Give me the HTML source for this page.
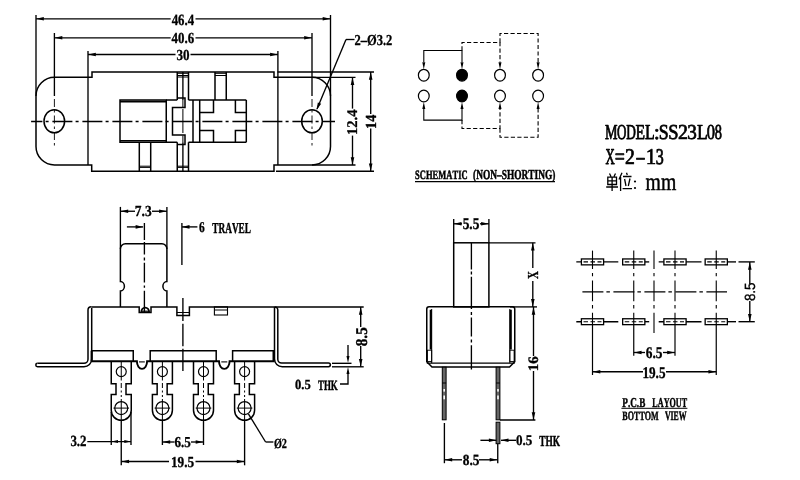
<!DOCTYPE html>
<html><head><meta charset="utf-8"><style>
html,body{margin:0;padding:0;background:#fff;}
svg{display:block;will-change:transform;} text{text-rendering:geometricPrecision;}
</style></head><body>
<svg width="800" height="480" viewBox="0 0 800 480" stroke="#000" fill="none" stroke-linecap="butt">
<rect x="0" y="0" width="800" height="480" fill="#fff" stroke="none"/>
<path d="M92,72 H274 V77.3 H312 A18.5 18.5 0 0 1 330.5 95.8 V146.5 A18.5 18.5 0 0 1 312 165 H274 V171.25 H91.7 V165 H54.5 A18.5 18.5 0 0 1 36 146.5 V95.8 A18.5 18.5 0 0 1 54.5 77.3 H92 Z" stroke-width="1.5" fill="none"/>
<line x1="88" y1="51" x2="88" y2="165" stroke-width="1.35"/>
<line x1="277.9" y1="51" x2="277.9" y2="165" stroke-width="1.35"/>
<line x1="36" y1="15" x2="36" y2="96" stroke-width="1.35"/>
<line x1="330.5" y1="15" x2="330.5" y2="96" stroke-width="1.35"/>
<line x1="54.4" y1="33" x2="54.4" y2="96" stroke-width="1.35"/>
<line x1="312" y1="33" x2="312" y2="96" stroke-width="1.35"/>
<line x1="54.4" y1="99" x2="54.4" y2="146" stroke-width="0.9" stroke-dasharray="8 3 2.5 3"/>
<line x1="312" y1="99" x2="312" y2="146" stroke-width="0.9" stroke-dasharray="8 3 2.5 3"/>
<line x1="31.1" y1="121.5" x2="335" y2="121.5" stroke-width="1.35" stroke-dasharray="20 3.2 3 3.8" stroke-dashoffset="8.7"/>
<ellipse cx="54.3" cy="121.25" rx="10.3" ry="11.5" stroke-width="1.5" fill="none"/>
<ellipse cx="312" cy="121.25" rx="10.3" ry="11.5" stroke-width="1.5" fill="none"/>
<line x1="36" y1="18.8" x2="170.7" y2="18.8" stroke-width="1.35"/>
<line x1="195.5" y1="18.8" x2="330.5" y2="18.8" stroke-width="1.35"/>
<path d="M36.30,18.80 L43.80,17.00 L43.80,20.60 Z" fill="#000" stroke="none"/>
<path d="M330.20,18.80 L322.70,20.60 L322.70,17.00 Z" fill="#000" stroke="none"/>
<line x1="54.5" y1="37.8" x2="170.7" y2="37.8" stroke-width="1.35"/>
<line x1="195.5" y1="37.8" x2="312" y2="37.8" stroke-width="1.35"/>
<path d="M54.80,37.80 L62.30,36.00 L62.30,39.60 Z" fill="#000" stroke="none"/>
<path d="M311.70,37.80 L304.20,39.60 L304.20,36.00 Z" fill="#000" stroke="none"/>
<line x1="88" y1="54.5" x2="175.5" y2="54.5" stroke-width="1.35"/>
<line x1="190.5" y1="54.5" x2="277.9" y2="54.5" stroke-width="1.35"/>
<path d="M88.30,54.50 L95.80,52.70 L95.80,56.30 Z" fill="#000" stroke="none"/>
<path d="M277.60,54.50 L270.10,56.30 L270.10,52.70 Z" fill="#000" stroke="none"/>
<text x="0" y="0" font-family='"Liberation Serif", serif' font-weight="bold" font-size="100.0" transform="matrix(0.12807,0,0,0.15707,171.625,24.600)" stroke="#000" stroke-width="2.10" stroke-linejoin="round" fill="#000" style="font-kerning:none">46.4</text>
<text x="0" y="0" font-family='"Liberation Serif", serif' font-weight="bold" font-size="100.0" transform="matrix(0.12888,0,0,0.15337,171.624,43.000)" stroke="#000" stroke-width="2.13" stroke-linejoin="round" fill="#000" style="font-kerning:none">40.6</text>
<text x="0" y="0" font-family='"Liberation Serif", serif' font-weight="bold" font-size="100.0" transform="matrix(0.13091,0,0,0.15337,176.408,59.900)" stroke="#000" stroke-width="2.11" stroke-linejoin="round" fill="#000" style="font-kerning:none">30</text>
<line x1="277.5" y1="72" x2="374" y2="72" stroke-width="1.35"/>
<line x1="276" y1="171.25" x2="374" y2="171.25" stroke-width="1.35"/>
<line x1="312" y1="77.3" x2="355.5" y2="77.3" stroke-width="1.35"/>
<line x1="312" y1="165" x2="355.5" y2="165" stroke-width="1.35"/>
<line x1="352.5" y1="77.3" x2="352.5" y2="108.6" stroke-width="1.35"/>
<line x1="352.5" y1="135.6" x2="352.5" y2="165" stroke-width="1.35"/>
<path d="M352.50,77.60 L354.30,85.10 L350.70,85.10 Z" fill="#000" stroke="none"/>
<path d="M352.50,164.70 L350.70,157.20 L354.30,157.20 Z" fill="#000" stroke="none"/>
<text x="0" y="0" font-family='"Liberation Serif", serif' font-weight="bold" font-size="100.0" transform="rotate(-90 357.25 133.75) matrix(0.14533,0,0,0.14726,356.086,133.750)" stroke="#000" stroke-width="2.05" stroke-linejoin="round" fill="#000" style="font-kerning:none">12.4</text>
<line x1="370.7" y1="72" x2="370.7" y2="114" stroke-width="1.35"/>
<line x1="370.7" y1="128.5" x2="370.7" y2="171.25" stroke-width="1.35"/>
<path d="M370.70,72.30 L372.50,79.80 L368.90,79.80 Z" fill="#000" stroke="none"/>
<path d="M370.70,170.90 L368.90,163.40 L372.50,163.40 Z" fill="#000" stroke="none"/>
<text x="0" y="0" font-family='"Liberation Serif", serif' font-weight="bold" font-size="100.0" transform="rotate(-90 376 127.75) matrix(0.14145,0,0,0.15299,374.867,127.750)" stroke="#000" stroke-width="2.04" stroke-linejoin="round" fill="#000" style="font-kerning:none">14</text>
<line x1="354.5" y1="39.5" x2="346" y2="39.5" stroke-width="1.35"/>
<line x1="346" y1="39.5" x2="317" y2="109" stroke-width="1.35"/>
<path d="M316.60,110.00 L317.83,102.39 L321.16,103.78 Z" fill="#000" stroke="none"/>
<text x="0" y="0" font-family='"Liberation Serif", serif' font-weight="bold" font-size="100.0" transform="matrix(0.12505,0,0,0.15165,354.475,44.600)" stroke="#000" stroke-width="2.17" stroke-linejoin="round" fill="#000" style="font-kerning:none">2–Ø3.2</text>
<rect x="120" y="100" width="46.25" height="42.25" stroke-width="1.5" fill="none"/>
<line x1="120" y1="101.6" x2="166.25" y2="101.6" stroke-width="1.6"/>
<line x1="120" y1="140.8" x2="166.25" y2="140.8" stroke-width="1.6"/>
<line x1="166.25" y1="100" x2="177.25" y2="100" stroke-width="1.5"/>
<line x1="166.25" y1="142.25" x2="177.25" y2="142.25" stroke-width="1.5"/>
<line x1="177.25" y1="72" x2="177.25" y2="100" stroke-width="1.5"/>
<line x1="177.25" y1="142.25" x2="177.25" y2="171" stroke-width="1.5"/>
<line x1="139.3" y1="142.25" x2="139.3" y2="171" stroke-width="1.5"/>
<line x1="150.7" y1="142.25" x2="150.7" y2="171" stroke-width="1.5"/>
<line x1="139.3" y1="166.2" x2="150.7" y2="166.2" stroke-width="1.0"/>
<line x1="139.3" y1="167.4" x2="150.7" y2="167.4" stroke-width="1.0"/>
<path d="M177.25,98 H185 V107.5 H172.5 V135 H185 V144.4 H177.25" stroke-width="1.5" fill="none"/>
<line x1="182.9" y1="72" x2="182.9" y2="100" stroke-width="1.35"/>
<line x1="182.9" y1="100" x2="182.9" y2="107" stroke-width="1.0"/>
<line x1="182.9" y1="109" x2="182.9" y2="133" stroke-width="1.0"/>
<line x1="182.9" y1="135.5" x2="182.9" y2="142.25" stroke-width="1.0"/>
<line x1="182.9" y1="142.25" x2="182.9" y2="171" stroke-width="1.35"/>
<line x1="188.5" y1="72" x2="188.5" y2="100" stroke-width="1.5"/>
<line x1="188.5" y1="142.25" x2="188.5" y2="171" stroke-width="1.5"/>
<line x1="215" y1="72" x2="215" y2="100" stroke-width="1.5"/>
<line x1="226.25" y1="72" x2="226.25" y2="100" stroke-width="1.5"/>
<line x1="188.5" y1="100" x2="246.3" y2="100" stroke-width="1.5"/>
<line x1="188.5" y1="142.25" x2="246.3" y2="142.25" stroke-width="1.5"/>
<line x1="193" y1="100" x2="193" y2="142.25" stroke-width="1.5"/>
<line x1="199.7" y1="100" x2="199.7" y2="142.25" stroke-width="1.5"/>
<line x1="246.3" y1="100" x2="246.3" y2="142.25" stroke-width="1.5"/>
<path d="M199.7,112.4 H213.5 V100" stroke-width="1.5" fill="none"/>
<path d="M235.4,100 V112.4 H246.3" stroke-width="1.5" fill="none"/>
<path d="M199.7,130.5 H213.5 V142.25" stroke-width="1.5" fill="none"/>
<path d="M235.4,142.25 V130.5 H246.3" stroke-width="1.5" fill="none"/>
<line x1="177.25" y1="73.3" x2="188.5" y2="73.3" stroke-width="1.0"/>
<line x1="177.25" y1="75.5" x2="188.5" y2="75.5" stroke-width="1.0"/>
<line x1="177.25" y1="77.0" x2="188.5" y2="77.0" stroke-width="1.0"/>
<line x1="215" y1="73.3" x2="226.25" y2="73.3" stroke-width="1.0"/>
<line x1="215" y1="75.5" x2="226.25" y2="75.5" stroke-width="1.0"/>
<line x1="177.25" y1="166.2" x2="188.5" y2="166.2" stroke-width="1.0"/>
<line x1="177.25" y1="167.4" x2="188.5" y2="167.4" stroke-width="1.0"/>
<ellipse cx="423.8" cy="75.2" rx="5.4" ry="5.9" stroke-width="1.2" fill="none"/>
<ellipse cx="423.8" cy="96.0" rx="5.4" ry="5.9" stroke-width="1.2" fill="none"/>
<ellipse cx="462" cy="75.2" rx="5.4" ry="5.9" stroke-width="1.2" fill="#000"/>
<ellipse cx="462" cy="96.0" rx="5.4" ry="5.9" stroke-width="1.2" fill="#000"/>
<ellipse cx="500" cy="75.2" rx="5.4" ry="5.9" stroke-width="1.2" fill="none"/>
<ellipse cx="500" cy="96.0" rx="5.4" ry="5.9" stroke-width="1.2" fill="none"/>
<ellipse cx="538.1" cy="75.2" rx="5.4" ry="5.9" stroke-width="1.2" fill="none"/>
<ellipse cx="538.1" cy="96.0" rx="5.4" ry="5.9" stroke-width="1.2" fill="none"/>
<path d="M423.8,62 V50.5 H462 V62" stroke-width="1.1" fill="none"/>
<path d="M423.80,69.20 L422.30,62.20 L425.30,62.20 Z" fill="#000" stroke="none"/>
<path d="M462.00,69.20 L460.50,62.20 L463.50,62.20 Z" fill="#000" stroke="none"/>
<path d="M423.8,109 V120.1 H462 V109" stroke-width="1.1" fill="none"/>
<path d="M423.80,102.00 L425.30,109.00 L422.30,109.00 Z" fill="#000" stroke="none"/>
<path d="M462.00,102.00 L463.50,109.00 L460.50,109.00 Z" fill="#000" stroke="none"/>
<path d="M462,50.5 V42.5 H500 V62" stroke-width="1.1" fill="none" stroke-dasharray="4.2 2.3"/>
<path d="M500.00,69.20 L498.50,62.20 L501.50,62.20 Z" fill="#000" stroke="none"/>
<path d="M500,42.5 V33.5 H538.1 V62" stroke-width="1.1" fill="none" stroke-dasharray="4.2 2.3"/>
<path d="M538.10,69.20 L536.60,62.20 L539.60,62.20 Z" fill="#000" stroke="none"/>
<path d="M462,120.1 V128.5 H500 V109" stroke-width="1.1" fill="none" stroke-dasharray="4.2 2.3"/>
<path d="M500.00,102.00 L501.50,109.00 L498.50,109.00 Z" fill="#000" stroke="none"/>
<path d="M500,128.5 V137.2 H538.1 V109" stroke-width="1.1" fill="none" stroke-dasharray="4.2 2.3"/>
<path d="M538.10,102.00 L539.60,109.00 L536.60,109.00 Z" fill="#000" stroke="none"/>
<text x="0" y="0" font-family='"Liberation Serif", serif' font-weight="bold" font-size="100.0" transform="matrix(0.08529,0,0,0.12838,415.046,179.000)" stroke="#000" stroke-width="3.74" stroke-linejoin="round" fill="#000" style="font-kerning:none">SCHEMATIC</text>
<text x="0" y="0" font-family='"Liberation Serif", serif' font-weight="bold" font-size="100.0" transform="matrix(0.09378,0,0,0.13692,473.088,179.000)" stroke="#000" stroke-width="3.47" stroke-linejoin="round" fill="#000" style="font-kerning:none">(NON–SHORTING)</text>
<line x1="415" y1="181.6" x2="555" y2="181.6" stroke-width="1.1"/>
<text x="0" y="0" font-family='"Liberation Serif", serif' font-weight="normal" font-size="100.0" transform="matrix(0.14078,0,0,0.21277,604.994,139.400)" stroke="#000" stroke-width="3.96" stroke-linejoin="round" fill="#000">M</text>
<text x="0" y="0" font-family='"Liberation Serif", serif' font-weight="normal" font-size="100.0" transform="matrix(0.12966,0,0,0.21277,616.968,139.400)" stroke="#000" stroke-width="4.09" stroke-linejoin="round" fill="#000">O</text>
<text x="0" y="0" font-family='"Liberation Serif", serif' font-weight="normal" font-size="100.0" transform="matrix(0.13317,0,0,0.21277,626.316,139.400)" stroke="#000" stroke-width="4.05" stroke-linejoin="round" fill="#000">D</text>
<text x="0" y="0" font-family='"Liberation Serif", serif' font-weight="normal" font-size="100.0" transform="matrix(0.15595,0,0,0.21277,635.451,139.400)" stroke="#000" stroke-width="3.80" stroke-linejoin="round" fill="#000">E</text>
<text x="0" y="0" font-family='"Liberation Serif", serif' font-weight="normal" font-size="100.0" transform="matrix(0.15901,0,0,0.21277,645.042,139.400)" stroke="#000" stroke-width="3.77" stroke-linejoin="round" fill="#000">L</text>
<text x="0" y="0" font-family='"Liberation Serif", serif' font-weight="normal" font-size="100.0" transform="matrix(0.22095,0,0,0.21277,653.852,139.400)" stroke="#000" stroke-width="3.23" stroke-linejoin="round" fill="#000">:</text>
<text x="0" y="0" font-family='"Liberation Serif", serif' font-weight="normal" font-size="100.0" transform="matrix(0.17788,0,0,0.21277,658.810,139.400)" stroke="#000" stroke-width="3.58" stroke-linejoin="round" fill="#000">S</text>
<text x="0" y="0" font-family='"Liberation Serif", serif' font-weight="normal" font-size="100.0" transform="matrix(0.18491,0,0,0.21277,668.163,139.400)" stroke="#000" stroke-width="3.52" stroke-linejoin="round" fill="#000">S</text>
<text x="0" y="0" font-family='"Liberation Serif", serif' font-weight="normal" font-size="100.0" transform="matrix(0.19956,0,0,0.21277,678.123,139.400)" stroke="#000" stroke-width="3.40" stroke-linejoin="round" fill="#000">2</text>
<text x="0" y="0" font-family='"Liberation Serif", serif' font-weight="normal" font-size="100.0" transform="matrix(0.19124,0,0,0.21277,687.285,139.400)" stroke="#000" stroke-width="3.47" stroke-linejoin="round" fill="#000">3</text>
<text x="0" y="0" font-family='"Liberation Serif", serif' font-weight="normal" font-size="100.0" transform="matrix(0.17625,0,0,0.21277,696.892,139.400)" stroke="#000" stroke-width="3.60" stroke-linejoin="round" fill="#000">L</text>
<text x="0" y="0" font-family='"Liberation Serif", serif' font-weight="normal" font-size="100.0" transform="matrix(0.16516,0,0,0.21277,706.871,139.400)" stroke="#000" stroke-width="3.70" stroke-linejoin="round" fill="#000">0</text>
<text x="0" y="0" font-family='"Liberation Serif", serif' font-weight="normal" font-size="100.0" transform="matrix(0.14393,0,0,0.21277,714.852,139.400)" stroke="#000" stroke-width="3.92" stroke-linejoin="round" fill="#000">8</text>
<text x="0" y="0" font-family='"Liberation Serif", serif' font-weight="normal" font-size="100.0" transform="matrix(0.12754,0,0,0.22504,605.420,163.800)" stroke="#000" stroke-width="3.97" stroke-linejoin="round" fill="#000">X</text>
<text x="0" y="0" font-family='"Liberation Serif", serif' font-weight="normal" font-size="100.0" transform="matrix(0.17837,0,0,0.22504,614.812,163.800)" stroke="#000" stroke-width="3.47" stroke-linejoin="round" fill="#000">=</text>
<text x="0" y="0" font-family='"Liberation Serif", serif' font-weight="normal" font-size="100.0" transform="matrix(0.19707,0,0,0.22504,624.934,163.800)" stroke="#000" stroke-width="3.32" stroke-linejoin="round" fill="#000">2</text>
<text x="0" y="0" font-family='"Liberation Serif", serif' font-weight="normal" font-size="100.0" transform="matrix(0.16158,0,0,0.22504,636.410,163.800)" stroke="#000" stroke-width="3.62" stroke-linejoin="round" fill="#000">–</text>
<text x="0" y="0" font-family='"Liberation Serif", serif' font-weight="normal" font-size="100.0" transform="matrix(0.21020,0,0,0.22504,645.853,163.800)" stroke="#000" stroke-width="3.22" stroke-linejoin="round" fill="#000">1</text>
<text x="0" y="0" font-family='"Liberation Serif", serif' font-weight="normal" font-size="100.0" transform="matrix(0.15977,0,0,0.22504,655.635,163.800)" stroke="#000" stroke-width="3.64" stroke-linejoin="round" fill="#000">3</text>
<path d="M609.5,173.5 L611,176.5 M615.5,173.5 L614,176.5 M607.8,177.2 H616.5 V184.5 H607.8 Z M607.8,180.8 H616.5 M612.1,177.2 V191 M606.2,187 H618" stroke-width="1.3" fill="none"/>
<path d="M622,172.8 L619,179.5 M620.6,177 V191 M626.5,172.8 L627.3,175 M623,176.5 H631.5 M624.6,179 L626,186 M630,178.5 L628.3,186 M622.6,188.6 H632" stroke-width="1.3" fill="none"/>
<circle cx="635" cy="181.5" r="1.1" stroke-width="0" fill="#000"/>
<circle cx="635" cy="188" r="1.1" stroke-width="0" fill="#000"/>
<text x="0" y="0" font-family='"Liberation Serif", serif' font-weight="normal" font-size="100.0" transform="matrix(0.19749,0,0,0.24831,645.585,189.700)" stroke="#000" stroke-width="2.02" stroke-linejoin="round" fill="#000" style="font-kerning:none">mm</text>
<path d="M120.4,306.9 V291 A4 4.75 0 0 0 120.4 281.5 V248.75 A5 5 0 0 1 125.4 243.75 H161.9 A5 5 0 0 1 166.9 248.75 V281.5 A4 4.75 0 0 0 166.9 291 V306.9" stroke-width="1.5" fill="none"/>
<path d="M91.3,306.9 H139.2 V312.5 H151 V306.9 H176.9 V315.5 H189.4 V306.9 H363.7" stroke-width="1.5" fill="none"/>
<line x1="176.9" y1="312.5" x2="189.4" y2="312.5" stroke-width="1.0"/>
<rect x="214.4" y="306.9" width="13.1" height="8.1" stroke-width="1.1" fill="none"/>
<line x1="214.4" y1="310" x2="227.5" y2="310" stroke-width="1.0"/>
<line x1="141" y1="311.2" x2="149.5" y2="311.2" stroke-width="1.2"/>
<path d="M141.3,312.2 A3.9 4.6 0 0 1 149.1 312.2" stroke-width="1.8" fill="none"/>
<path d="M144.4,223 V240 M144.4,242 V254.5 M144.4,257.5 V260.5 M144.4,262.7 V282.5 M144.4,285.6 V287.7 M144.4,290.8 V312" stroke-width="1.35" fill="none"/>
<path d="M182.9,298 V321 M182.9,323.7 V346.2 M182.9,348.7 V371" stroke-width="1.35" fill="none"/>
<path d="M37.5,363.3 H84 A4 4 0 0 0 88 359.3 V310 A3.3 3.3 0 0 1 91.3 306.7" stroke-width="1.5" fill="none"/>
<path d="M37.5,363.3 A1.7 1.7 0 0 0 37.5 366.7 H84 A7.7 7.7 0 0 0 91.7 359 V308" stroke-width="1.5" fill="none"/>
<path d="M274.5,307 V359 A7.7 7.7 0 0 0 282.2 366.7 H328.5 A1.85 1.85 0 0 0 328.5 363 H281.5 A3.7 3.7 0 0 1 277.8 359.3 V310 A3.1 3.1 0 0 0 274.7 306.9" stroke-width="1.5" fill="none"/>
<path d="M91.7,350.7 H133.25 V361.5" stroke-width="1.5" fill="none"/>
<path d="M150.2,361.5 V350.7 H216.2 V361.5" stroke-width="1.5" fill="none"/>
<path d="M232.6,361.5 V350.7 H274.5" stroke-width="1.5" fill="none"/>
<path d="M91.7,361.3 H136.9 A5.1 7.6 0 0 0 147.1 361.3 H219 A5.3 7.6 0 0 0 229.6 361.3 H274.5" stroke-width="1.9" fill="none"/>
<line x1="139" y1="361.9" x2="144.8" y2="361.9" stroke-width="1.1"/>
<line x1="221.3" y1="361.9" x2="227.3" y2="361.9" stroke-width="1.1"/>
<line x1="91.7" y1="350.7" x2="91.7" y2="361.5" stroke-width="2.2"/>
<line x1="273.5" y1="350.7" x2="273.5" y2="361.5" stroke-width="2.0"/>
<path d="M111.25,361.5 V383.7 H116.0 V394.6 H111.25 V410.3 A10 10 0 0 0 131.25 410.3 V394.6 H126.0 V383.7 H131.25 V361.5" stroke-width="1.5" fill="none"/>
<circle cx="121.25" cy="371.6" r="5.0" stroke-width="1.2" fill="none"/>
<circle cx="121.25" cy="408.1" r="6.5" stroke-width="1.2" fill="none"/>
<line x1="113.45" y1="408.1" x2="129.05" y2="408.1" stroke-width="1.0"/>
<line x1="121.25" y1="362" x2="121.25" y2="380.5" stroke-width="1.0"/>
<line x1="121.25" y1="383" x2="121.25" y2="397" stroke-width="1.0" stroke-dasharray="5 2.5 2 2.5"/>
<line x1="121.25" y1="399" x2="121.25" y2="421" stroke-width="1.0"/>
<path d="M152.4,361.5 V383.7 H157.15 V394.6 H152.4 V410.3 A10 10 0 0 0 172.4 410.3 V394.6 H167.15 V383.7 H172.4 V361.5" stroke-width="1.5" fill="none"/>
<circle cx="162.4" cy="371.6" r="5.0" stroke-width="1.2" fill="none"/>
<circle cx="162.4" cy="408.1" r="6.5" stroke-width="1.2" fill="none"/>
<line x1="154.6" y1="408.1" x2="170.20000000000002" y2="408.1" stroke-width="1.0"/>
<line x1="162.4" y1="362" x2="162.4" y2="380.5" stroke-width="1.0"/>
<line x1="162.4" y1="383" x2="162.4" y2="397" stroke-width="1.0" stroke-dasharray="5 2.5 2 2.5"/>
<line x1="162.4" y1="399" x2="162.4" y2="421" stroke-width="1.0"/>
<path d="M193.5,361.5 V383.7 H198.25 V394.6 H193.5 V410.3 A10 10 0 0 0 213.5 410.3 V394.6 H208.25 V383.7 H213.5 V361.5" stroke-width="1.5" fill="none"/>
<circle cx="203.5" cy="371.6" r="5.0" stroke-width="1.2" fill="none"/>
<circle cx="203.5" cy="408.1" r="6.5" stroke-width="1.2" fill="none"/>
<line x1="195.7" y1="408.1" x2="211.3" y2="408.1" stroke-width="1.0"/>
<line x1="203.5" y1="362" x2="203.5" y2="380.5" stroke-width="1.0"/>
<line x1="203.5" y1="383" x2="203.5" y2="397" stroke-width="1.0" stroke-dasharray="5 2.5 2 2.5"/>
<line x1="203.5" y1="399" x2="203.5" y2="421" stroke-width="1.0"/>
<path d="M234.6,361.5 V383.7 H239.35 V394.6 H234.6 V410.3 A10 10 0 0 0 254.6 410.3 V394.6 H249.35 V383.7 H254.6 V361.5" stroke-width="1.5" fill="none"/>
<circle cx="244.6" cy="371.6" r="5.0" stroke-width="1.2" fill="none"/>
<circle cx="244.6" cy="408.1" r="6.5" stroke-width="1.2" fill="none"/>
<line x1="236.79999999999998" y1="408.1" x2="252.4" y2="408.1" stroke-width="1.0"/>
<line x1="244.6" y1="362" x2="244.6" y2="380.5" stroke-width="1.0"/>
<line x1="244.6" y1="383" x2="244.6" y2="397" stroke-width="1.0" stroke-dasharray="5 2.5 2 2.5"/>
<line x1="244.6" y1="399" x2="244.6" y2="421" stroke-width="1.0"/>
<line x1="111.25" y1="412" x2="111.25" y2="445" stroke-width="1.35"/>
<line x1="131" y1="412" x2="131" y2="445" stroke-width="1.35"/>
<line x1="121.25" y1="421" x2="121.25" y2="465.3" stroke-width="1.35"/>
<line x1="162.4" y1="421" x2="162.4" y2="445" stroke-width="1.35"/>
<line x1="203.5" y1="421" x2="203.5" y2="445" stroke-width="1.35"/>
<line x1="244.6" y1="421" x2="244.6" y2="465.3" stroke-width="1.35"/>
<text x="0" y="0" font-family='"Liberation Serif", serif' font-weight="bold" font-size="100.0" transform="matrix(0.12912,0,0,0.15556,70.415,446.400)" stroke="#000" stroke-width="2.11" stroke-linejoin="round" fill="#000" style="font-kerning:none">3.2</text>
<line x1="87.3" y1="441.6" x2="131" y2="441.6" stroke-width="1.35"/>
<path d="M111.50,441.60 L118.00,440.10 L118.00,443.10 Z" fill="#000" stroke="none"/>
<path d="M130.80,441.60 L124.30,443.10 L124.30,440.10 Z" fill="#000" stroke="none"/>
<line x1="162.4" y1="442" x2="174.5" y2="442" stroke-width="1.35"/>
<line x1="191" y1="442" x2="203.5" y2="442" stroke-width="1.35"/>
<path d="M162.70,442.00 L170.20,440.20 L170.20,443.80 Z" fill="#000" stroke="none"/>
<path d="M203.20,442.00 L195.70,443.80 L195.70,440.20 Z" fill="#000" stroke="none"/>
<text x="0" y="0" font-family='"Liberation Serif", serif' font-weight="bold" font-size="100.0" transform="matrix(0.13060,0,0,0.15103,174.554,446.500)" stroke="#000" stroke-width="2.13" stroke-linejoin="round" fill="#000" style="font-kerning:none">6.5</text>
<line x1="121.25" y1="461.5" x2="169" y2="461.5" stroke-width="1.35"/>
<line x1="195.5" y1="461.5" x2="244.6" y2="461.5" stroke-width="1.35"/>
<path d="M121.55,461.50 L129.05,459.70 L129.05,463.30 Z" fill="#000" stroke="none"/>
<path d="M244.30,461.50 L236.80,463.30 L236.80,459.70 Z" fill="#000" stroke="none"/>
<text x="0" y="0" font-family='"Liberation Serif", serif' font-weight="bold" font-size="100.0" transform="matrix(0.13317,0,0,0.15254,170.934,466.600)" stroke="#000" stroke-width="2.10" stroke-linejoin="round" fill="#000" style="font-kerning:none">19.5</text>
<line x1="248.4" y1="413.8" x2="265.6" y2="442" stroke-width="1.35"/>
<line x1="265.6" y1="442" x2="273.4" y2="442" stroke-width="1.35"/>
<text x="0" y="0" font-family='"Liberation Serif", serif' font-weight="bold" font-size="100.0" transform="matrix(0.10118,0,0,0.13840,273.906,447.500)" stroke="#000" stroke-width="2.50" stroke-linejoin="round" fill="#000" style="font-kerning:none">Ø2</text>
<line x1="120.4" y1="206.9" x2="120.4" y2="249" stroke-width="1.35"/>
<line x1="166.9" y1="206.9" x2="166.9" y2="249" stroke-width="1.35"/>
<line x1="120.4" y1="211.25" x2="135" y2="211.25" stroke-width="1.35"/>
<line x1="152" y1="211.25" x2="166.9" y2="211.25" stroke-width="1.35"/>
<path d="M120.70,211.25 L128.20,209.45 L128.20,213.05 Z" fill="#000" stroke="none"/>
<path d="M166.60,211.25 L159.10,213.05 L159.10,209.45 Z" fill="#000" stroke="none"/>
<text x="0" y="0" font-family='"Liberation Serif", serif' font-weight="bold" font-size="100.0" transform="matrix(0.13507,0,0,0.15330,134.828,216.400)" stroke="#000" stroke-width="2.08" stroke-linejoin="round" fill="#000" style="font-kerning:none">7.3</text>
<line x1="126.9" y1="226.9" x2="143.1" y2="226.9" stroke-width="1.35"/>
<path d="M143.10,226.90 L135.60,228.70 L135.60,225.10 Z" fill="#000" stroke="none"/>
<line x1="181.9" y1="223" x2="181.9" y2="265" stroke-width="1.35"/>
<line x1="182" y1="226.9" x2="197.4" y2="226.9" stroke-width="1.35"/>
<path d="M182.00,226.90 L189.50,225.10 L189.50,228.70 Z" fill="#000" stroke="none"/>
<text x="0" y="0" font-family='"Liberation Serif", serif' font-weight="bold" font-size="100.0" transform="matrix(0.11454,0,0,0.14952,199.109,232.400)" stroke="#000" stroke-width="2.27" stroke-linejoin="round" fill="#000" style="font-kerning:none">6</text>
<text x="0" y="0" font-family='"Liberation Serif", serif' font-weight="bold" font-size="100.0" transform="matrix(0.09246,0,0,0.15148,212.356,232.500)" stroke="#000" stroke-width="2.87" stroke-linejoin="round" fill="#000" style="font-kerning:none">TRAVEL</text>
<line x1="332" y1="363.3" x2="351.5" y2="363.3" stroke-width="1.35"/>
<line x1="332" y1="366.8" x2="363.7" y2="366.8" stroke-width="1.35"/>
<line x1="360.7" y1="306.9" x2="360.7" y2="327" stroke-width="1.35"/>
<line x1="360.7" y1="346" x2="360.7" y2="366.8" stroke-width="1.35"/>
<path d="M360.70,307.20 L362.50,314.70 L358.90,314.70 Z" fill="#000" stroke="none"/>
<path d="M360.70,366.50 L358.90,359.00 L362.50,359.00 Z" fill="#000" stroke="none"/>
<text x="0" y="0" font-family='"Liberation Serif", serif' font-weight="bold" font-size="100.0" transform="rotate(-90 366.6 345.8) matrix(0.15252,0,0,0.16540,366.094,345.800)" stroke="#000" stroke-width="1.89" stroke-linejoin="round" fill="#000" style="font-kerning:none">8.5</text>
<line x1="348" y1="345" x2="348" y2="356" stroke-width="1.35"/>
<path d="M348.00,363.10 L346.50,356.10 L349.50,356.10 Z" fill="#000" stroke="none"/>
<path d="M348.00,367.00 L349.50,374.00 L346.50,374.00 Z" fill="#000" stroke="none"/>
<path d="M348,374 V384 H340" stroke-width="1.35" fill="none"/>
<text x="0" y="0" font-family='"Liberation Serif", serif' font-weight="bold" font-size="100.0" transform="matrix(0.12593,0,0,0.13834,295.020,389.400)" stroke="#000" stroke-width="2.27" stroke-linejoin="round" fill="#000" style="font-kerning:none">0.5</text>
<text x="0" y="0" font-family='"Liberation Serif", serif' font-weight="bold" font-size="100.0" transform="matrix(0.08912,0,0,0.14203,317.961,389.500)" stroke="#000" stroke-width="3.03" stroke-linejoin="round" fill="#000" style="font-kerning:none">THK</text>
<rect x="453.7" y="242.8" width="35.2" height="64.1" stroke-width="1.5" fill="none"/>
<path d="M471.4,242.8 V269.5 M471.4,271.6 V274.5 M471.4,276.8 V309 M471.4,312 V315 M471.4,317.6 V336.6 M471.4,339.5 V342.4 M471.4,345.3 V369.5" stroke-width="1.35" fill="none"/>
<line x1="453.7" y1="219" x2="453.7" y2="242.8" stroke-width="1.35"/>
<line x1="488.9" y1="219" x2="488.9" y2="242.8" stroke-width="1.35"/>
<line x1="453.7" y1="223.8" x2="462" y2="223.8" stroke-width="1.35"/>
<line x1="480" y1="223.8" x2="488.9" y2="223.8" stroke-width="1.35"/>
<path d="M454.00,223.80 L461.50,222.00 L461.50,225.60 Z" fill="#000" stroke="none"/>
<path d="M488.60,223.80 L481.10,225.60 L481.10,222.00 Z" fill="#000" stroke="none"/>
<text x="0" y="0" font-family='"Liberation Serif", serif' font-weight="bold" font-size="100.0" transform="matrix(0.13381,0,0,0.16494,462.664,228.600)" stroke="#000" stroke-width="2.01" stroke-linejoin="round" fill="#000" style="font-kerning:none">5.5</text>
<line x1="488.9" y1="242.8" x2="535.5" y2="242.8" stroke-width="1.35"/>
<line x1="532.8" y1="242.8" x2="532.8" y2="268" stroke-width="1.35"/>
<line x1="532.8" y1="281" x2="532.8" y2="306.9" stroke-width="1.35"/>
<path d="M532.80,243.10 L534.60,250.60 L531.00,250.60 Z" fill="#000" stroke="none"/>
<path d="M532.80,306.60 L531.00,299.10 L534.60,299.10 Z" fill="#000" stroke="none"/>
<text x="0" y="0" font-family='"Liberation Serif", serif' font-weight="bold" font-size="100.0" transform="rotate(-90 537.9 278.75) matrix(0.10840,0,0,0.15272,537.699,278.750)" stroke="#000" stroke-width="2.30" stroke-linejoin="round" fill="#000" style="font-kerning:none">X</text>
<path d="M426.75,361.8 V309 A2.25 2.25 0 0 1 429 306.75 H512.5 A2.25 2.25 0 0 1 514.75 309 V361.8 L509.5 367.1 H432 Z" stroke-width="1.5" fill="none"/>
<line x1="426.75" y1="363.2" x2="514.75" y2="363.2" stroke-width="1.2"/>
<line x1="431.7" y1="309" x2="431.7" y2="363.2" stroke-width="1.0"/>
<line x1="509.8" y1="309" x2="509.8" y2="363.2" stroke-width="1.0"/>
<rect x="429.7" y="309.75" width="2.2" height="39.75" stroke-width="0" fill="#000"/>
<rect x="509.6" y="309.75" width="2.2" height="39.75" stroke-width="0" fill="#000"/>
<rect x="427.4" y="350.2" width="4.3" height="11.3" stroke-width="0.9" fill="none"/>
<rect x="509.8" y="350.2" width="4.3" height="11.3" stroke-width="0.9" fill="none"/>
<line x1="510" y1="306.9" x2="537" y2="306.9" stroke-width="1.35"/>
<line x1="533.5" y1="306.9" x2="533.5" y2="356" stroke-width="1.35"/>
<line x1="533.5" y1="371" x2="533.5" y2="420" stroke-width="1.35"/>
<path d="M533.50,307.20 L535.30,314.70 L531.70,314.70 Z" fill="#000" stroke="none"/>
<path d="M533.50,419.70 L531.70,412.20 L535.30,412.20 Z" fill="#000" stroke="none"/>
<text x="0" y="0" font-family='"Liberation Serif", serif' font-weight="bold" font-size="100.0" transform="rotate(-90 537.9 370) matrix(0.14933,0,0,0.14499,536.704,370.000)" stroke="#000" stroke-width="2.04" stroke-linejoin="round" fill="#000" style="font-kerning:none">16</text>
<line x1="499.9" y1="420" x2="535.4" y2="420" stroke-width="1.35"/>
<rect x="442.3" y="367.2" width="3.8" height="52.6" stroke-width="1.0" fill="#666"/>
<rect x="443.40000000000003" y="389" width="1.6" height="2.6" fill="#fff" stroke="none"/>
<rect x="443.40000000000003" y="395.5" width="1.6" height="3.8" fill="#fff" stroke="none"/>
<line x1="442.3" y1="383" x2="446.1" y2="383" stroke-width="1.0"/>
<rect x="496.1" y="367.2" width="3.8" height="52.6" stroke-width="1.0" fill="#666"/>
<rect x="497.20000000000005" y="389" width="1.6" height="2.6" fill="#fff" stroke="none"/>
<rect x="497.20000000000005" y="395.5" width="1.6" height="3.8" fill="#fff" stroke="none"/>
<line x1="496.1" y1="383" x2="499.90000000000003" y2="383" stroke-width="1.0"/>
<line x1="444.4" y1="423" x2="444.4" y2="463.2" stroke-width="1.35"/>
<rect x="496.1" y="422.2" width="3.8" height="21.5" stroke-width="1.0" fill="#666"/>
<line x1="497.75" y1="443.7" x2="497.75" y2="463.2" stroke-width="1.35"/>
<line x1="480.4" y1="440.3" x2="496.4" y2="440.3" stroke-width="1.35"/>
<path d="M496.40,440.30 L488.90,442.10 L488.90,438.50 Z" fill="#000" stroke="none"/>
<line x1="501" y1="440.3" x2="516" y2="440.3" stroke-width="1.35"/>
<path d="M501.00,440.30 L508.50,438.50 L508.50,442.10 Z" fill="#000" stroke="none"/>
<text x="0" y="0" font-family='"Liberation Serif", serif' font-weight="bold" font-size="100.0" transform="matrix(0.13103,0,0,0.14736,516.001,445.400)" stroke="#000" stroke-width="2.16" stroke-linejoin="round" fill="#000" style="font-kerning:none">0.5</text>
<text x="0" y="0" font-family='"Liberation Serif", serif' font-weight="bold" font-size="100.0" transform="matrix(0.09367,0,0,0.15272,539.254,445.600)" stroke="#000" stroke-width="2.84" stroke-linejoin="round" fill="#000" style="font-kerning:none">THK</text>
<line x1="444.4" y1="459.8" x2="462" y2="459.8" stroke-width="1.35"/>
<line x1="479" y1="459.8" x2="497.5" y2="459.8" stroke-width="1.35"/>
<path d="M444.70,459.80 L452.20,458.00 L452.20,461.60 Z" fill="#000" stroke="none"/>
<path d="M497.20,459.80 L489.70,461.60 L489.70,458.00 Z" fill="#000" stroke="none"/>
<text x="0" y="0" font-family='"Liberation Serif", serif' font-weight="bold" font-size="100.0" transform="matrix(0.13345,0,0,0.15488,462.807,464.700)" stroke="#000" stroke-width="2.08" stroke-linejoin="round" fill="#000" style="font-kerning:none">8.5</text>
<line x1="576.3" y1="261.9" x2="618.3" y2="261.9" stroke-width="1.35"/>
<line x1="622.6" y1="261.9" x2="649.2" y2="261.9" stroke-width="1.35"/>
<line x1="658.7" y1="261.9" x2="701.5" y2="261.9" stroke-width="1.35"/>
<line x1="705" y1="261.9" x2="736" y2="261.9" stroke-width="1.35"/>
<line x1="738.5" y1="261.9" x2="754.8" y2="261.9" stroke-width="1.35"/>
<rect x="581.4" y="258.95" width="22.2" height="5.9" stroke-width="1.3" fill="#fff"/>
<line x1="583.5" y1="261.9" x2="601.5" y2="261.9" stroke-width="1.1" stroke-dasharray="4.5 2.5"/>
<rect x="622.65" y="258.95" width="22.2" height="5.9" stroke-width="1.3" fill="#fff"/>
<line x1="624.75" y1="261.9" x2="642.75" y2="261.9" stroke-width="1.1" stroke-dasharray="4.5 2.5"/>
<rect x="663.9" y="258.95" width="22.2" height="5.9" stroke-width="1.3" fill="#fff"/>
<line x1="666" y1="261.9" x2="684" y2="261.9" stroke-width="1.1" stroke-dasharray="4.5 2.5"/>
<rect x="705.15" y="258.95" width="22.2" height="5.9" stroke-width="1.3" fill="#fff"/>
<line x1="707.25" y1="261.9" x2="725.25" y2="261.9" stroke-width="1.1" stroke-dasharray="4.5 2.5"/>
<line x1="576.3" y1="321.7" x2="618.3" y2="321.7" stroke-width="1.35"/>
<line x1="622.6" y1="321.7" x2="649.2" y2="321.7" stroke-width="1.35"/>
<line x1="658.7" y1="321.7" x2="701.5" y2="321.7" stroke-width="1.35"/>
<line x1="705" y1="321.7" x2="736" y2="321.7" stroke-width="1.35"/>
<line x1="738.5" y1="321.7" x2="754.8" y2="321.7" stroke-width="1.35"/>
<rect x="581.4" y="318.75" width="22.2" height="5.9" stroke-width="1.3" fill="#fff"/>
<line x1="583.5" y1="321.7" x2="601.5" y2="321.7" stroke-width="1.1" stroke-dasharray="4.5 2.5"/>
<rect x="622.65" y="318.75" width="22.2" height="5.9" stroke-width="1.3" fill="#fff"/>
<line x1="624.75" y1="321.7" x2="642.75" y2="321.7" stroke-width="1.1" stroke-dasharray="4.5 2.5"/>
<rect x="663.9" y="318.75" width="22.2" height="5.9" stroke-width="1.3" fill="#fff"/>
<line x1="666" y1="321.7" x2="684" y2="321.7" stroke-width="1.1" stroke-dasharray="4.5 2.5"/>
<rect x="705.15" y="318.75" width="22.2" height="5.9" stroke-width="1.3" fill="#fff"/>
<line x1="707.25" y1="321.7" x2="725.25" y2="321.7" stroke-width="1.1" stroke-dasharray="4.5 2.5"/>
<line x1="592.5" y1="250.6" x2="592.5" y2="324.6" stroke-width="1.1" stroke-dasharray="20.7 3.8 3.4 4.3" stroke-dashoffset="2.2"/>
<line x1="592.5" y1="324.6" x2="592.5" y2="375" stroke-width="1.2"/>
<line x1="633.75" y1="250.6" x2="633.75" y2="324.6" stroke-width="1.1" stroke-dasharray="20.7 3.8 3.4 4.3" stroke-dashoffset="2.2"/>
<line x1="633.75" y1="324.6" x2="633.75" y2="355.75" stroke-width="1.2"/>
<line x1="675" y1="250.6" x2="675" y2="324.6" stroke-width="1.1" stroke-dasharray="20.7 3.8 3.4 4.3" stroke-dashoffset="2.2"/>
<line x1="675" y1="324.6" x2="675" y2="355.75" stroke-width="1.2"/>
<line x1="716.25" y1="250.6" x2="716.25" y2="324.6" stroke-width="1.1" stroke-dasharray="20.7 3.8 3.4 4.3" stroke-dashoffset="2.2"/>
<line x1="716.25" y1="324.6" x2="716.25" y2="375" stroke-width="1.2"/>
<line x1="654" y1="250.6" x2="654" y2="333" stroke-width="1.1" stroke-dasharray="20.7 3.8 3.4 4.3" stroke-dashoffset="2.2"/>
<line x1="582.4" y1="291.9" x2="727" y2="291.9" stroke-width="1.1" stroke-dasharray="21 3 3.5 3.5"/>
<line x1="749.8" y1="261.9" x2="749.8" y2="284" stroke-width="1.35"/>
<line x1="749.8" y1="301" x2="749.8" y2="321.7" stroke-width="1.35"/>
<path d="M749.80,262.20 L751.60,269.70 L748.00,269.70 Z" fill="#000" stroke="none"/>
<path d="M749.80,321.40 L748.00,313.90 L751.60,313.90 Z" fill="#000" stroke="none"/>
<text x="0" y="0" font-family='"Liberation Sans", sans-serif' font-weight="normal" font-size="100.0" transform="rotate(-90 755.1 300.5) matrix(0.13337,0,0,0.14751,754.520,300.500)" stroke="#000" stroke-width="2.14" stroke-linejoin="round" fill="#000" style="font-kerning:none">8.5</text>
<line x1="633.75" y1="352.5" x2="645" y2="352.5" stroke-width="1.35"/>
<line x1="663" y1="352.5" x2="675" y2="352.5" stroke-width="1.35"/>
<path d="M634.05,352.50 L641.55,350.70 L641.55,354.30 Z" fill="#000" stroke="none"/>
<path d="M674.70,352.50 L667.20,354.30 L667.20,350.70 Z" fill="#000" stroke="none"/>
<text x="0" y="0" font-family='"Liberation Serif", serif' font-weight="bold" font-size="100.0" transform="matrix(0.13399,0,0,0.16312,645.742,357.800)" stroke="#000" stroke-width="2.02" stroke-linejoin="round" fill="#000" style="font-kerning:none">6.5</text>
<line x1="592.5" y1="371.7" x2="643" y2="371.7" stroke-width="1.35"/>
<line x1="666" y1="371.7" x2="716.25" y2="371.7" stroke-width="1.35"/>
<path d="M592.80,371.70 L600.30,369.90 L600.30,373.50 Z" fill="#000" stroke="none"/>
<path d="M715.95,371.70 L708.45,373.50 L708.45,369.90 Z" fill="#000" stroke="none"/>
<text x="0" y="0" font-family='"Liberation Serif", serif' font-weight="bold" font-size="100.0" transform="matrix(0.13164,0,0,0.16312,642.446,377.800)" stroke="#000" stroke-width="2.04" stroke-linejoin="round" fill="#000" style="font-kerning:none">19.5</text>
<text x="0" y="0" font-family='"Liberation Serif", serif' font-weight="bold" font-size="100.0" transform="matrix(0.09165,0,0,0.13593,622.343,406.500)" stroke="#000" stroke-width="3.08" stroke-linejoin="round" fill="#000" style="font-kerning:none">P.C.B</text>
<text x="0" y="0" font-family='"Liberation Serif", serif' font-weight="bold" font-size="100.0" transform="matrix(0.08125,0,0,0.13593,652.361,406.500)" stroke="#000" stroke-width="3.22" stroke-linejoin="round" fill="#000" style="font-kerning:none">LAYOUT</text>
<line x1="621.4" y1="408.3" x2="687.4" y2="408.3" stroke-width="1.0"/>
<text x="0" y="0" font-family='"Liberation Serif", serif' font-weight="bold" font-size="100.0" transform="matrix(0.08081,0,0,0.12838,622.366,419.500)" stroke="#000" stroke-width="3.35" stroke-linejoin="round" fill="#000" style="font-kerning:none">BOTTOM</text>
<text x="0" y="0" font-family='"Liberation Serif", serif' font-weight="bold" font-size="100.0" transform="matrix(0.07814,0,0,0.12981,664.912,419.500)" stroke="#000" stroke-width="3.37" stroke-linejoin="round" fill="#000" style="font-kerning:none">VIEW</text>
</svg>
</body></html>
